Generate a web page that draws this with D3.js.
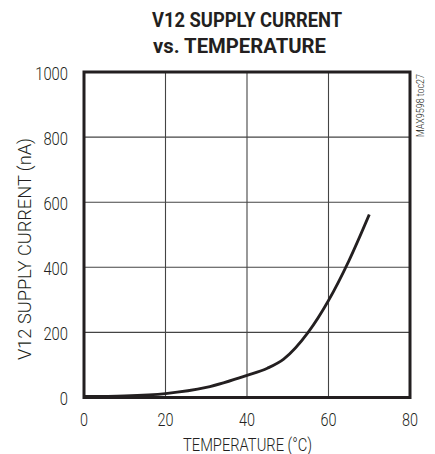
<!DOCTYPE html>
<html><head><meta charset="utf-8">
<script src="https://cdn.jsdelivr.net/npm/d3@7"></script>
<style>
html,body{margin:0;padding:0;background:#fff;}
text{font-family:Roboto,"Liberation Sans",Arial,sans-serif;fill:#231f20;}
</style></head>
<body>
<svg id="c" width="435" height="454"></svg>
<script>
const temps = [0, 10, 20, 30, 40, 45, 49, 55, 60, 65, 70];
const current = [3, 5, 12, 31, 68, 90, 118, 200, 298, 420, 562];
const xTicks = [0, 20, 40, 60, 80];
const yTicks = [0, 200, 400, 600, 800, 1000];

const svg = d3.select("#c");
const L = 84, R = 410, T = 72, B = 397.5;
const x = d3.scaleLinear().domain([0, 80]).range([L, R]);
const y = d3.scaleLinear().domain([0, 1000]).range([B, T]);

function txt(g, px, py, str, size, width, anchor, opts = {}) {
  const t = g.append("text").attr("x", px).attr("y", py)
    .attr("text-anchor", anchor).attr("font-size", size)
    .attr("font-weight", opts.bold ? "bold" : 300)
    .attr("textLength", width).attr("lengthAdjust", "spacingAndGlyphs").text(str);
  if (opts.transform) t.attr("transform", opts.transform);
  return t;
}

// grid
svg.append("g").selectAll("line").data(xTicks.slice(1, -1)).join("line")
  .attr("x1", d => x(d)).attr("x2", d => x(d)).attr("y1", T).attr("y2", B)
  .attr("stroke", "#444").attr("stroke-width", 1.1);
svg.append("g").selectAll("line").data(yTicks.slice(1, -1)).join("line")
  .attr("y1", d => y(d)).attr("y2", d => y(d)).attr("x1", L).attr("x2", R)
  .attr("stroke", "#444").attr("stroke-width", 1.1);

// curve
const line = d3.line().x((d, i) => x(temps[i])).y(d => y(d)).curve(d3.curveMonotoneX);
svg.append("path").attr("d", line(current)).attr("fill", "none")
  .attr("stroke", "#231f20").attr("stroke-width", 2.8);

// border
svg.append("rect").attr("x", L).attr("y", T).attr("width", R - L).attr("height", B - T)
  .attr("fill", "none").attr("stroke", "#231f20").attr("stroke-width", 3);

// tick labels
const gx = svg.append("g");
xTicks.forEach(d => txt(gx, x(d), 426, String(d), 17.5, 8 * String(d).length, "middle"));
const gy = svg.append("g");
yTicks.forEach(d => txt(gy, 68, y(d) + 7.5, String(d), 17.5, 8.2 * String(d).length, "end"));

// axis titles
txt(svg, 247.5, 451, "TEMPERATURE (°C)", 17.5, 129, "middle");
txt(svg, 0, 0, "V12 SUPPLY CURRENT (nA)", 17.5, 222, "middle",
  { transform: `translate(31,249) rotate(-90)` });

// title
txt(svg, 247, 27, "V12 SUPPLY CURRENT", 21, 190, "middle", { bold: true });
txt(svg, 239.5, 53, "vs. TEMPERATURE", 21, 173, "middle", { bold: true });

// side note
txt(svg, 0, 0, "MAX9598 toc27", 10.5, 63, "end",
  { transform: `translate(424,74) rotate(-90)` });
</script>
</body></html>
